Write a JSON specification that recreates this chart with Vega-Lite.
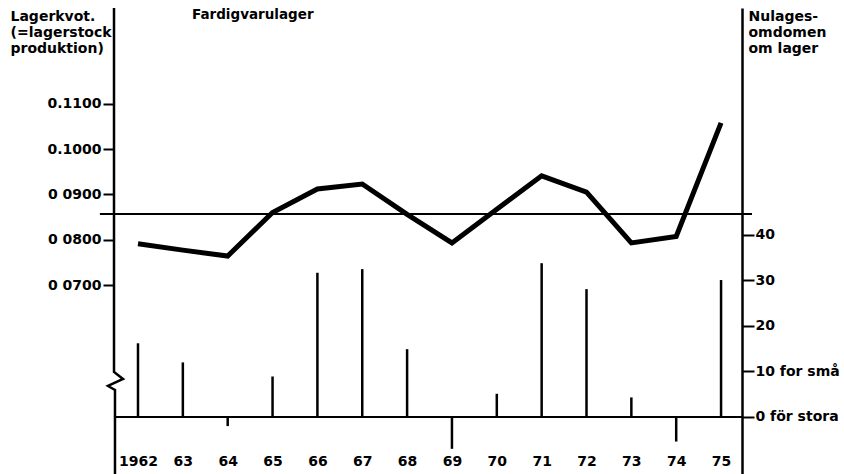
{
  "$schema": "https://vega.github.io/schema/vega-lite/v6.json",
  "width": 628,
  "height": 466,
  "autosize": {"type": "none"},
  "padding": {"left": 114, "top": 8, "right": 102, "bottom": 0},
  "background": "white",
  "config": {
    "view": {"stroke": null},
    "font": "DejaVu Sans",
    "axis": {
      "labelFont": "DejaVu Sans", "labelFontSize": 14, "labelFontWeight": "bold", "labelColor": "#000",
      "titleFont": "DejaVu Sans", "titleFontSize": 14, "titleFontWeight": "bold", "titleColor": "#000",
      "domainColor": "#000", "tickColor": "#000", "grid": false
    }
  },
  "title": {
    "text": "Fardigvarulager", "anchor": "start", "frame": "group", "orient": "top",
    "offset": 0, "dx": 78, "dy": 29, "baseline": "alphabetic",
    "font": "DejaVu Sans", "fontSize": 13.5, "fontWeight": "bold", "color": "#000"
  },
  "layer": [
    {
      "layer": [
        {
          "data": {"values": [
            {"year": 1962, "kvot": 0.0791},
            {"year": 1963, "kvot": 0.0777},
            {"year": 1964, "kvot": 0.0764},
            {"year": 1965, "kvot": 0.0860},
            {"year": 1966, "kvot": 0.0912},
            {"year": 1967, "kvot": 0.0923},
            {"year": 1968, "kvot": 0.0856},
            {"year": 1969, "kvot": 0.0793},
            {"year": 1970, "kvot": 0.0867},
            {"year": 1971, "kvot": 0.0941},
            {"year": 1972, "kvot": 0.0905},
            {"year": 1973, "kvot": 0.0793},
            {"year": 1974, "kvot": 0.0807},
            {"year": 1975, "kvot": 0.1058}
          ]},
          "mark": {"type": "line", "stroke": "#000", "strokeWidth": 5, "strokeJoin": "miter", "strokeCap": "butt"},
          "encoding": {
            "x": {
              "field": "year", "type": "quantitative",
              "scale": {"domain": [1961.465, 1975.467], "nice": false, "zero": false},
              "axis": {
                "values": [1962, 1963, 1964, 1965, 1966, 1967, 1968, 1969, 1970, 1971, 1972, 1973, 1974, 1975],
                "labelExpr": "datum.value == 1962 ? '1962' : slice(toString(datum.value), 2)",
                "domain": false, "ticks": false, "labelPadding": -13, "labelBaseline": "middle",
                "labelFlush": false, "labelOverlap": false, "title": null, "grid": false
              }
            },
            "y": {
              "field": "kvot", "type": "quantitative",
              "scale": {"domain": [0.02828, 0.13115], "nice": false, "zero": false},
              "axis": {
                "values": [0.07, 0.08, 0.09, 0.10, 0.11],
                "labelExpr": "datum.value > 0.095 ? format(datum.value, '.4f') : '0 ' + slice(format(datum.value, '.4f'), 2)",
                "domain": false, "tickSize": 11, "tickWidth": 2, "labelPadding": 2,
                "title": ["Lagerkvot.", "(=lagerstock", "produktion)"],
                "titleAngle": 0, "titleAlign": "left", "titleBaseline": "alphabetic",
                "titleX": -104, "titleY": 12.7, "titleLineHeight": 16
              }
            }
          }
        },
        {
          "data": {"values": [{"x0": 1961.15, "x1": 1975.69, "niva": 0.08568}]},
          "mark": {"type": "rule", "stroke": "#000", "strokeWidth": 2},
          "encoding": {
            "x": {"field": "x0", "type": "quantitative"},
            "x2": {"field": "x1"},
            "y": {"field": "niva", "type": "quantitative"}
          }
        },
        {
          "data": {"values": [
            {"ax": 1961.465, "ay": 0.13115, "i": 0},
            {"ax": 1961.465, "ay": 0.0508, "i": 1},
            {"ax": 1961.666, "ay": 0.04925, "i": 2},
            {"ax": 1961.331, "ay": 0.04771, "i": 3},
            {"ax": 1961.487, "ay": 0.04682, "i": 4},
            {"ax": 1961.487, "ay": 0.02828, "i": 5}
          ]},
          "mark": {"type": "line", "stroke": "#000", "strokeWidth": 2.5, "strokeJoin": "miter"},
          "encoding": {
            "x": {"field": "ax", "type": "quantitative"},
            "y": {"field": "ay", "type": "quantitative"},
            "order": {"field": "i", "type": "quantitative"}
          }
        }
      ]
    },
    {
      "data": {"values": [
        {"year": 1962, "omd": 16.2},
        {"year": 1963, "omd": 12.0},
        {"year": 1964, "omd": -2.0},
        {"year": 1965, "omd": 8.9},
        {"year": 1966, "omd": 31.7},
        {"year": 1967, "omd": 32.5},
        {"year": 1968, "omd": 14.9},
        {"year": 1969, "omd": -7.0},
        {"year": 1970, "omd": 5.1},
        {"year": 1971, "omd": 33.8},
        {"year": 1972, "omd": 28.1},
        {"year": 1973, "omd": 4.3},
        {"year": 1974, "omd": -5.4},
        {"year": 1975, "omd": 30.1}
      ]},
      "layer": [
        {
          "mark": {"type": "rule", "stroke": "#000", "strokeWidth": 2.5},
          "encoding": {
            "x": {"field": "year", "type": "quantitative"},
            "y": {
              "field": "omd", "type": "quantitative",
              "scale": {"domain": [-12.53, 89.89], "nice": false, "zero": false},
              "axis": {
                "orient": "right",
                "values": [0, 10, 20, 30, 40],
                "labelExpr": "datum.value == 10 ? '10 for små' : datum.value == 0 ? '0 för stora' : toString(datum.value)",
                "domainWidth": 2.5, "tickSize": 12, "tickWidth": 2, "labelPadding": 1,
                "title": ["Nulages-", "omdomen", "om lager"],
                "titleAngle": 0, "titleAlign": "left", "titleBaseline": "alphabetic",
                "titleX": 6, "titleY": 12.7, "titleLineHeight": 16
              }
            },
            "y2": {"datum": 0}
          }
        },
        {
          "mark": {"type": "rule", "stroke": "#000", "strokeWidth": 2},
          "encoding": {
            "y": {"datum": 0, "type": "quantitative"}
          }
        }
      ]
    }
  ],
  "resolve": {"scale": {"y": "independent"}}
}
